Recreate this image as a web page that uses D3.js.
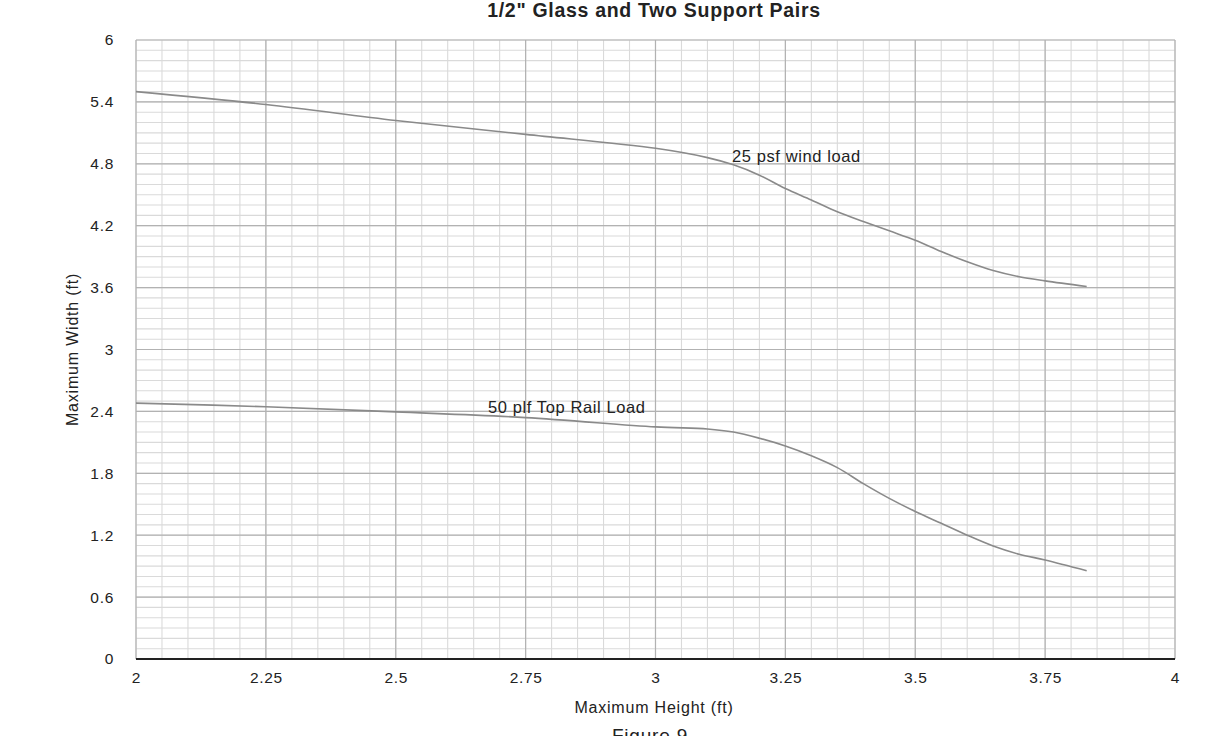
<!DOCTYPE html>
<html>
<head>
<meta charset="utf-8">
<script src="https://cdn.jsdelivr.net/npm/d3@7"></script>
<style>
  body { margin: 0; background: #fff; }
  text { font-family: "Liberation Sans", Arial, sans-serif; fill: #222; }
</style>
</head>
<body>
<svg width="1210" height="736"></svg>
<script>
// data
const heights = [2, 2.25, 2.5, 2.75, 3, 3.1, 3.15, 3.2, 3.25, 3.3, 3.35, 3.4, 3.45, 3.5, 3.55, 3.6, 3.65, 3.7, 3.75, 3.83];
const windLoad = [5.5, 5.375, 5.22, 5.085, 4.95, 4.86, 4.79, 4.69, 4.56, 4.45, 4.335, 4.24, 4.15, 4.06, 3.95, 3.85, 3.765, 3.705, 3.665, 3.61];
const railLoad = [2.48, 2.445, 2.395, 2.34, 2.25, 2.23, 2.2, 2.14, 2.065, 1.97, 1.855, 1.7, 1.557, 1.43, 1.315, 1.2, 1.095, 1.015, 0.96, 0.856];
const xTicks = [2, 2.25, 2.5, 2.75, 3, 3.25, 3.5, 3.75, 4];
const yTicks = [0, 0.6, 1.2, 1.8, 2.4, 3, 3.6, 4.2, 4.8, 5.4, 6];

const plotLeft = 136, plotRight = 1175, plotTop = 40, plotBottom = 659;

const x = d3.scaleLinear().domain([2, 4]).range([plotLeft, plotRight]);
const y = d3.scaleLinear().domain([0, 6]).range([plotBottom, plotTop]);

const svg = d3.select('svg');

// minor grid
const minorX = d3.range(0, 41).map(i => 2 + i * 0.05);
const minorY = d3.range(0, 61).map(i => i * 0.1);

svg.append('g')
  .selectAll('line')
  .data(minorX)
  .enter()
  .append('line')
  .attr('x1', d => x(d)).attr('x2', d => x(d))
  .attr('y1', plotTop).attr('y2', plotBottom)
  .attr('stroke', '#dadada').attr('stroke-width', 1.1);

svg.append('g')
  .selectAll('line')
  .data(minorY)
  .enter()
  .append('line')
  .attr('x1', plotLeft).attr('x2', plotRight)
  .attr('y1', d => y(d)).attr('y2', d => y(d))
  .attr('stroke', '#dadada').attr('stroke-width', 1.1);

// major grid
svg.append('g')
  .selectAll('line')
  .data(xTicks)
  .enter()
  .append('line')
  .attr('x1', d => x(d)).attr('x2', d => x(d))
  .attr('y1', plotTop).attr('y2', plotBottom)
  .attr('stroke', '#b2b2b2').attr('stroke-width', 1.2);

svg.append('g')
  .selectAll('line')
  .data(yTicks)
  .enter()
  .append('line')
  .attr('x1', plotLeft).attr('x2', plotRight)
  .attr('y1', d => y(d)).attr('y2', d => y(d))
  .attr('stroke', '#b2b2b2').attr('stroke-width', 1.2);

// bottom axis line
svg.append('line')
  .attr('x1', plotLeft).attr('x2', plotRight)
  .attr('y1', plotBottom).attr('y2', plotBottom)
  .attr('stroke', '#222').attr('stroke-width', 1.8);

// axes (labels only)
const xAxis = svg.append('g')
  .attr('transform', 'translate(0,' + plotBottom + ')')
  .call(d3.axisBottom(x).tickValues(xTicks).tickSize(0).tickPadding(13).tickFormat(d3.format('~g')));
xAxis.select('.domain').remove();
xAxis.selectAll('text').style('font-size', '15.5px').style('letter-spacing', '0.7px').attr('fill', '#222');

const yAxis = svg.append('g')
  .attr('transform', 'translate(' + plotLeft + ',0)')
  .call(d3.axisLeft(y).tickValues(yTicks).tickSize(0).tickPadding(22)
    .tickFormat(d => d3.format('~g')(+d.toFixed(1))));
yAxis.select('.domain').remove();
yAxis.selectAll('text').style('font-size', '15.5px').style('letter-spacing', '0.7px').attr('fill', '#222');

// curves
const line = d3.line()
  .x((d, i) => x(heights[i]))
  .y(d => y(d))
  .curve(d3.curveCatmullRom.alpha(0.5));

[windLoad, railLoad].forEach(series => {
  svg.append('path')
    .attr('d', line(series))
    .attr('fill', 'none')
    .attr('stroke', '#8a8a8a')
    .attr('stroke-width', 1.6);
});

// curve labels
svg.append('text').attr('x', 732).attr('y', 162)
  .style('font-size', '16.5px').style('letter-spacing', '0.6px').text('25 psf wind load');
svg.append('text').attr('x', 488).attr('y', 413)
  .style('font-size', '16.5px').style('letter-spacing', '0.6px').text('50 plf Top Rail Load');

// titles
svg.append('text').attr('x', 654).attr('y', 17)
  .attr('text-anchor', 'middle')
  .style('font-size', '19.5px').style('font-weight', 'bold').style('letter-spacing', '0.7px')
  .text('1/2" Glass and Two Support Pairs');

svg.append('text').attr('x', 654).attr('y', 713)
  .attr('text-anchor', 'middle')
  .style('font-size', '16px').style('letter-spacing', '0.8px')
  .text('Maximum Height (ft)');

svg.append('text')
  .attr('transform', 'translate(78,' + (plotTop + plotBottom) / 2 + ') rotate(-90)')
  .attr('text-anchor', 'middle')
  .style('font-size', '16px').style('letter-spacing', '0.8px')
  .text('Maximum Width (ft)');

svg.append('text').attr('x', 650).attr('y', 742)
  .attr('text-anchor', 'middle')
  .style('font-size', '19px').style('letter-spacing', '0.8px')
  .text('Figure 9');
</script>
</body>
</html>
